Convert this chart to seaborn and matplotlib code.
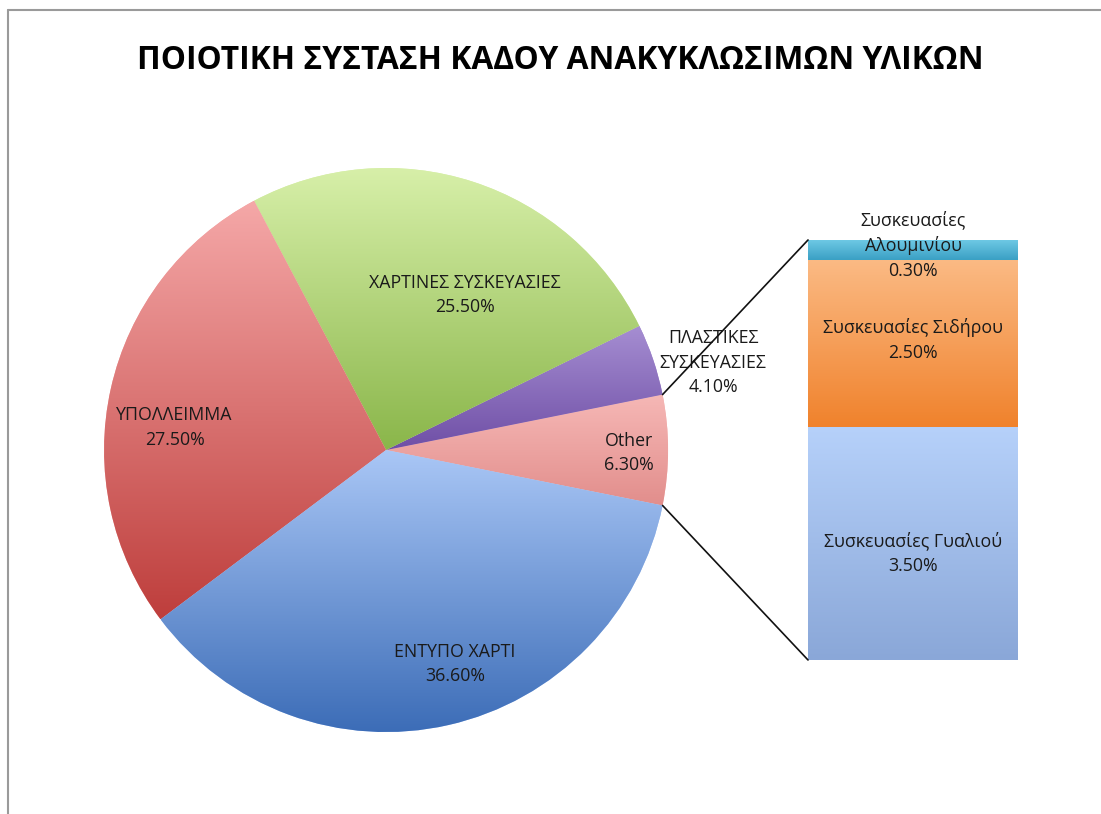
import numpy as np
import matplotlib
matplotlib.use('Agg')
import matplotlib.pyplot as plt
import seaborn as sns
from matplotlib.colors import LinearSegmentedColormap
from matplotlib.patches import ConnectionPatch
from matplotlib.lines import Line2D

# --- data ---
# pie slices, counter-clockwise starting from "Other" (which is split into the bar)
pie_labels = ['Other', 'ΠΛΑΣΤΙΚΕΣ\nΣΥΣΚΕΥΑΣΙΕΣ', 'ΧΑΡΤΙΝΕΣ ΣΥΣΚΕΥΑΣΙΕΣ', 'ΥΠΟΛΛΕΙΜΜΑ', 'ΕΝΤΥΠΟ ΧΑΡΤΙ']
pie_values = [6.3, 4.1, 25.5, 27.5, 36.6]

# bar (breakdown of "Other"), bottom to top
bar_labels = ['Συσκευασίες Γυαλιού', 'Συσκευασίες Σιδήρου', 'Συσκευασίες\nΑλουμινίου']
bar_values = [3.5, 2.5, 0.3]

title = 'ΠΟΙΟΤΙΚΗ ΣΥΣΤΑΣΗ ΚΑΔΟΥ ΑΝΑΚΥΚΛΩΣΙΜΩΝ ΥΛΙΚΩΝ'

# gradient colours (top, bottom)
pie_top = ['#f6b8b6', '#a68ed2', '#d8f0aa', '#f5a8a8', '#aac7f6']
pie_bottom = ['#e28e8c', '#6f4fa6', '#8ab64a', '#be3e3c', '#3a6bb6']
bar_top = ['#b6d1fa', '#fbba84', '#70cae6']
bar_bottom = ['#8aa7d8', '#f0822c', '#3aa0c4']

# label positions (pie: unit radius coords, bar: data coords)
pie_label_pos = [(0.86, -0.01), (1.16, 0.31), (0.28, 0.55), (-0.75, 0.08), (0.245, -0.76)]
bar_label_y = [1.6, 4.8, 6.22]

sns.set_style('white')
plt.rcParams['font.family'] = ['Open Sans', 'DejaVu Sans']

fig = plt.figure(figsize=(11.01, 8.14), dpi=100)


def gradient(ax, patch, top, bottom, extent=None):
    if extent is None:
        v = patch.get_patch_transform().transform(patch.get_path().vertices)
        extent = [v[:, 0].min(), v[:, 0].max(), v[:, 1].min(), v[:, 1].max()]
    cmap = LinearSegmentedColormap.from_list('g', [bottom, top])
    grad = np.linspace(0, 1, 256).reshape(-1, 1)
    im = ax.imshow(grad, cmap=cmap, origin='lower', extent=extent,
                   aspect='auto', zorder=2, interpolation='bilinear')
    im.set_clip_path(patch)


# --- pie ---
ax_pie = fig.add_axes([0.0945, 0.1007, 0.5123, 0.6929])
start = -pie_values[0] / 2 * 3.6
wedges, _ = ax_pie.pie(pie_values, startangle=start, counterclock=True,
                       colors=pie_top, radius=1,
                       wedgeprops=dict(linewidth=0))
for w, t, b in zip(wedges, pie_top, pie_bottom):
    gradient(ax_pie, w, t, b)
ax_pie.set_xlim(-1, 1)
ax_pie.set_ylim(-1, 1)
ax_pie.set_aspect('equal')
ax_pie.axis('off')

for lab, val, (x, y) in zip(pie_labels, pie_values, pie_label_pos):
    ax_pie.text(x, y, f'{lab}\n{val:.2f}%', ha='center', va='center',
                fontsize=12.8, color='#1a1a1a', linespacing=1.45, zorder=5)

# --- stacked bar ---
ax_bar = fig.add_axes([0.7339, 0.1892, 0.1907, 0.516])
cum = np.cumsum(bar_values)
for i in range(len(bar_values) - 1, -1, -1):
    sns.barplot(x=[0], y=[cum[i]], width=1.0, color=bar_top[i], ax=ax_bar,
                linewidth=0)
bars = ax_bar.patches
lows = np.concatenate([[0], cum[:-1]])
for i in range(len(bar_values)):
    gradient(ax_bar, bars[-1 - i], bar_top[i], bar_bottom[i],
             extent=[-0.5, 0.5, lows[i], cum[i]])
ax_bar.set_xlim(-0.5, 0.5)
ax_bar.set_ylim(0, cum[-1])
ax_bar.axis('off')

for lab, val, y in zip(bar_labels, bar_values, bar_label_y):
    ax_bar.text(0, y, f'{lab}\n{val:.2f}%', ha='center', va='center',
                fontsize=12.8, color='#1a1a1a', linespacing=1.45, zorder=5,
                clip_on=False)

# connector lines from the "Other" slice to the bar
a = np.deg2rad(pie_values[0] / 2 * 3.6)
for sign, yb in [(1, cum[-1]), (-1, 0)]:
    con = ConnectionPatch(xyA=(np.cos(a), sign * np.sin(a)), coordsA=ax_pie.transData,
                          xyB=(-0.5, yb), coordsB=ax_bar.transData,
                          color='#111111', lw=1.2)
    fig.add_artist(con)

# title and frame
fig.text(0.509, 0.926, title, ha='center', va='center', fontsize=22.9,
         fontweight='bold', color='black')
fig.add_artist(Line2D([0.007, 1.0], [0.9877, 0.9877], color='#9a9a9a', lw=1.5))
fig.add_artist(Line2D([0.0075, 0.0075], [0, 0.9877], color='#9a9a9a', lw=1.5))

fig.savefig('out.png', dpi=100)
